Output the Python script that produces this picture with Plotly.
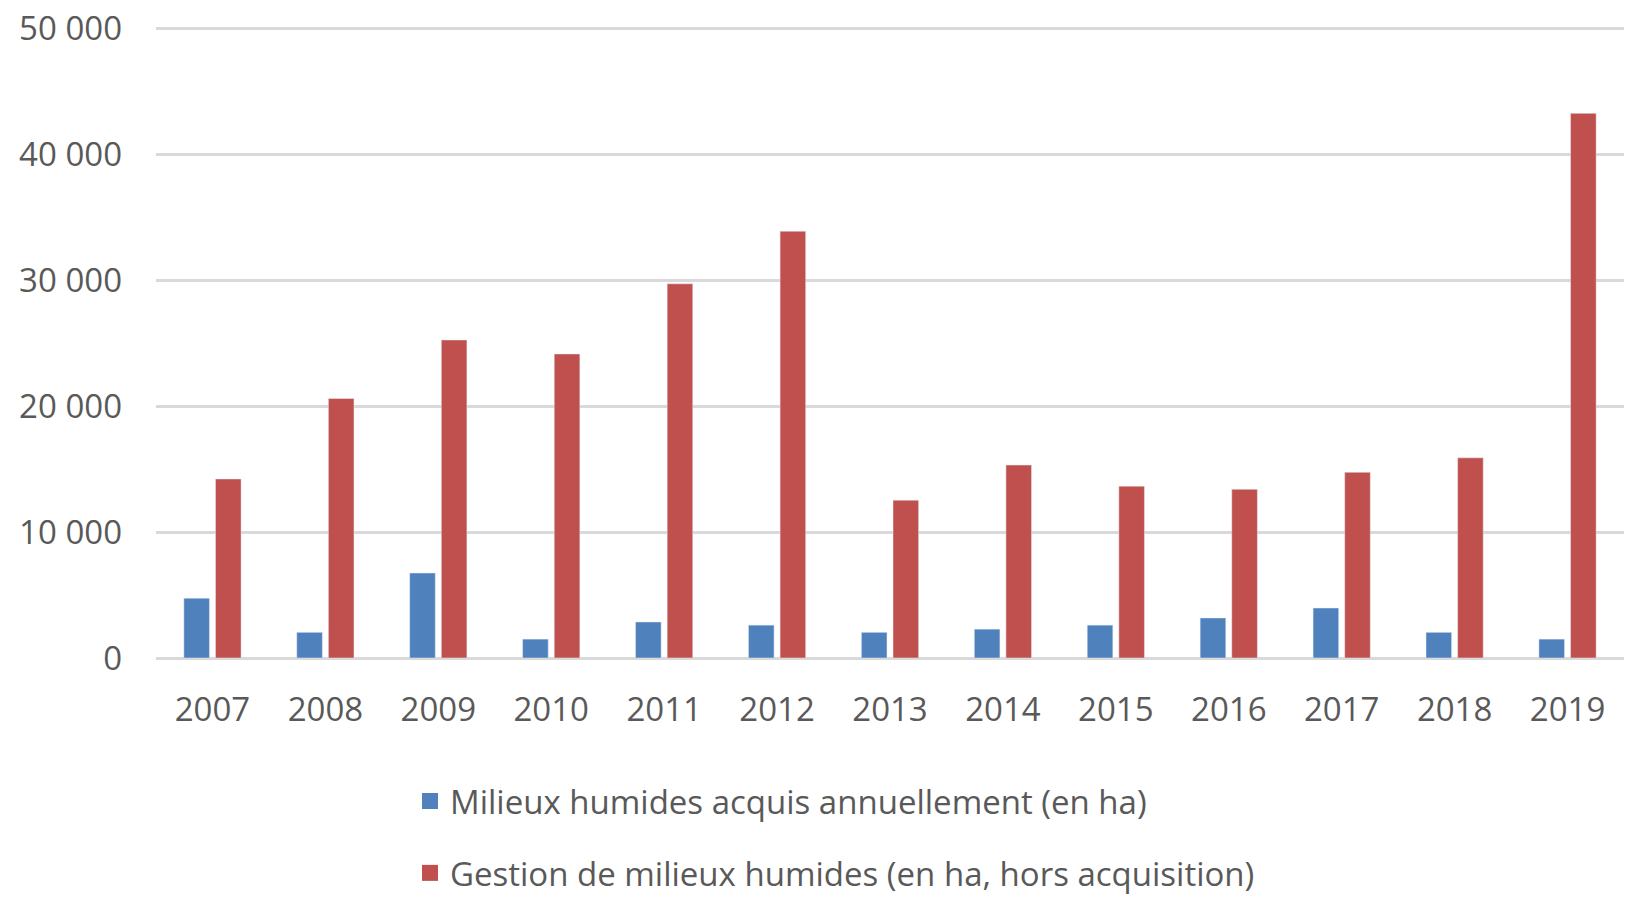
import plotly.graph_objects as go

years = ["2007", "2008", "2009", "2010", "2011", "2012", "2013",
         "2014", "2015", "2016", "2017", "2018", "2019"]
acquis = [4750, 2040, 6750, 1500, 2860, 2610, 2040, 2290, 2610, 3180, 3970, 2040, 1500]
gestion = [14220, 20610, 25260, 24150, 29720, 33900, 12540, 15330, 13650, 13400, 14750, 15900, 43260]

name_acquis = "Milieux humides acquis annuellement (en ha)"
name_gestion = "Gestion de milieux humides (en ha, hors acquisition)"

FONT = "Open Sans"
GREY = "#595959"
BLUE = "#4F81BD"
RED = "#C0504D"

fig = go.Figure()
fig.add_trace(go.Bar(x=years, y=acquis, name=name_acquis, marker_color=BLUE,
                     showlegend=False))
fig.add_trace(go.Bar(x=years, y=gestion, name=name_gestion, marker_color=RED,
                     showlegend=False))
# legend entries (larger square swatches, as in the original)
fig.add_trace(go.Scatter(x=[None], y=[None], mode="markers", name=name_acquis,
                         marker=dict(symbol="square", size=16, color=BLUE),
                         legendgroup="a", showlegend=True))
fig.add_trace(go.Scatter(x=[None], y=[None], mode="markers", name=name_gestion,
                         marker=dict(symbol="square", size=16, color=RED),
                         legendgroup="b", showlegend=True))

fig.update_layout(
    width=1627, height=897,
    margin=dict(l=156, r=3, t=25.5, b=239, autoexpand=False),
    paper_bgcolor="white", plot_bgcolor="white",
    separators=", ",
    barmode="group", bargap=0.44, bargroupgap=0.19,
    font=dict(family=FONT, size=33, color=GREY),
    showlegend=True,
    legend=dict(orientation="v", x=(410 - 156) / 1468, xanchor="left",
                y=-0.182, yanchor="top",
                traceorder="grouped", tracegroupgap=26, itemsizing="trace",
                font=dict(family=FONT, size=33, color=GREY),
                bgcolor="rgba(0,0,0,0)"),
    xaxis=dict(showgrid=False, showline=False, ticks="", ticklabelstandoff=29,
               tickfont=dict(family=FONT, size=33, color=GREY)),
    yaxis=dict(range=[0, 50200], dtick=10000, tickformat=",d",
               showgrid=True, gridcolor="#D9D9D9", gridwidth=3,
               zeroline=True, zerolinecolor="#D9D9D9", zerolinewidth=3,
               showline=False, ticks="", ticklabelstandoff=33,
               tickfont=dict(family=FONT, size=33, color=GREY)),
)

fig.write_html("out.html",
               config={"displayModeBar": False},
               post_script="document.body.style.margin='0';document.body.style.overflow='hidden';")
